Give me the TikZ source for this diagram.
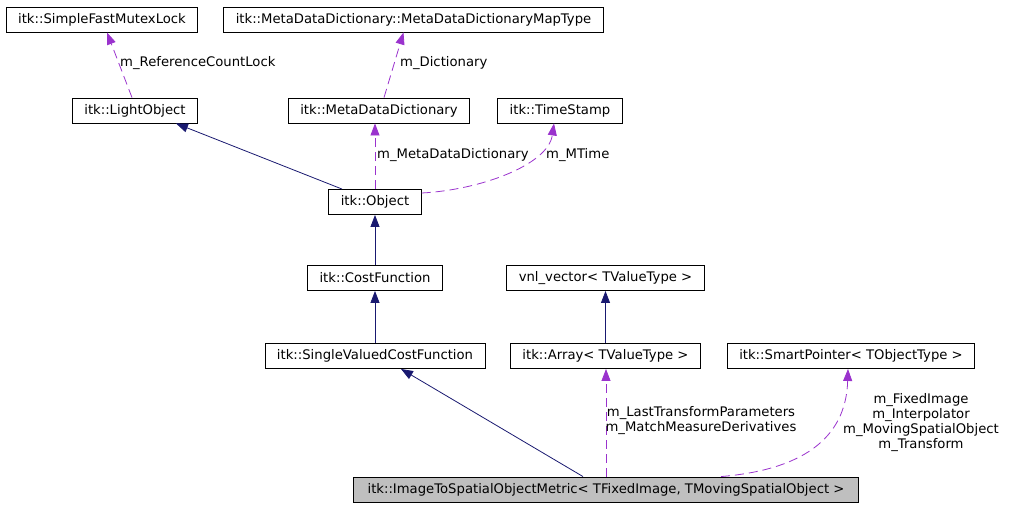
\documentclass[tikz,border=0pt]{standalone}
\usepackage{fontspec}
\setmainfont{DejaVu Sans}
\usepackage{tikz}
\usetikzlibrary{positioning}
\usetikzlibrary{arrows.meta}
\definecolor{edgeblue}{HTML}{191970}
\definecolor{edgepurple}{HTML}{9A32CD}
\definecolor{boxgray}{HTML}{BFBFBF}

\begin{document}
\begin{tikzpicture}[
            x = 1pt,
            y = -1pt,
            cls/.style = {
                draw,
                rectangle,
                fill = #1,
                line width = 0.9pt,
                minimum height = 25pt,
                inner xsep = 12pt,
                inner ysep = 0pt,
                font = \fontsize{13.2}{14.7}\selectfont
            },
            cls/.default = white,
            lbl/.style = {
                inner sep = 0pt,
                align = center,
                font = \fontsize{13.2}{14.7}\selectfont
            },
            inherit/.style = {
                color = edgeblue,
                line width = 0.8pt,
                -{Triangle[length=12pt, width=9pt]}
            },
            uses/.style = {
                color = edgepurple,
                line width = 0.8pt,
                dash pattern = on 9pt off 5pt,
                -{Triangle[length=12pt, width=9pt]}
            }
            ]
            \useasboundingbox (0,0) rectangle (1016,507);

            \node[cls] (1) at (102,19.5) {itk::SimpleFastMutexLock};
            \node[cls] (2) at (413.5,19.5) {itk::MetaDataDictionary::MetaDataDictionaryMapType};
            \node[cls] (3) at (135,110.5) {itk::LightObject};
            \node[cls] (4) at (379,110.5) {itk::MetaDataDictionary};
            \node[cls] (5) at (560,110.5) {itk::TimeStamp};
            \node[cls] (9) at (375,356) {itk::SingleValuedCostFunction};
            \node[cls, above of=9, node distance=78pt] (7) {itk::CostFunction};
            \node[cls, above of=7, node distance=76pt] (6) {itk::Object};
            \node[cls] (10) at (605.5,356) {itk::Array< TValueType >};
            \node[cls, above of=10, node distance=78pt] (8) {vnl\_vector< TValueType >};
            \node[cls] (11) at (851,356) {itk::SmartPointer< TObjectType >};
            \node[cls=boxgray, inner xsep=14pt] (12) at (606,489.5) {itk::ImageToSpatialObjectMetric< TFixedImage, TMovingSpatialObject >};

            \draw[uses] ([xshift=-3pt]3.north) -- ([xshift=5pt]1.south);
            \draw[uses] ([xshift=5pt]4.north) -- ([xshift=-10pt]2.south);
            \draw[inherit] ([xshift=-33pt]6.north) -- ([xshift=41pt]3.south);
            \draw[uses] (6.north) -- (6.north |- 4.south);
            \draw[uses] ([yshift=9pt]6.east) .. controls (480,190) and (548,165) .. ([xshift=-6pt]5.south);
            \draw[inherit] (7.north) -- (6.south);
            \draw[inherit] (9.north) -- (7.south);
            \draw[inherit] (10.north) -- (8.south);
            \draw[inherit] ([xshift=-23pt]12.north) -- ([xshift=26pt]9.south);
            \draw[uses] (12.north) -- (12.north |- 10.south);
            \draw[uses] ([xshift=115pt]12.north) .. controls (800,470) and (846,440) .. ([xshift=-3pt]11.south);

            \node[lbl, anchor=west] (l1) at (120,63) {m\_ReferenceCountLock};
            \node[lbl, anchor=west] (l2) at (400,63) {m\_Dictionary};
            \node[lbl, anchor=west] (l3) at (377,155) {m\_MetaDataDictionary};
            \node[lbl, anchor=west] (l4) at (546,155) {m\_MTime};
            \node[lbl] (l5) at (701,420.5) {m\_LastTransformParameters\\m\_MatchMeasureDerivatives};
            \node[lbl] (l6) at (921,422.5) {m\_FixedImage\\m\_Interpolator\\m\_MovingSpatialObject\\m\_Transform};
\end{tikzpicture}
\end{document}
